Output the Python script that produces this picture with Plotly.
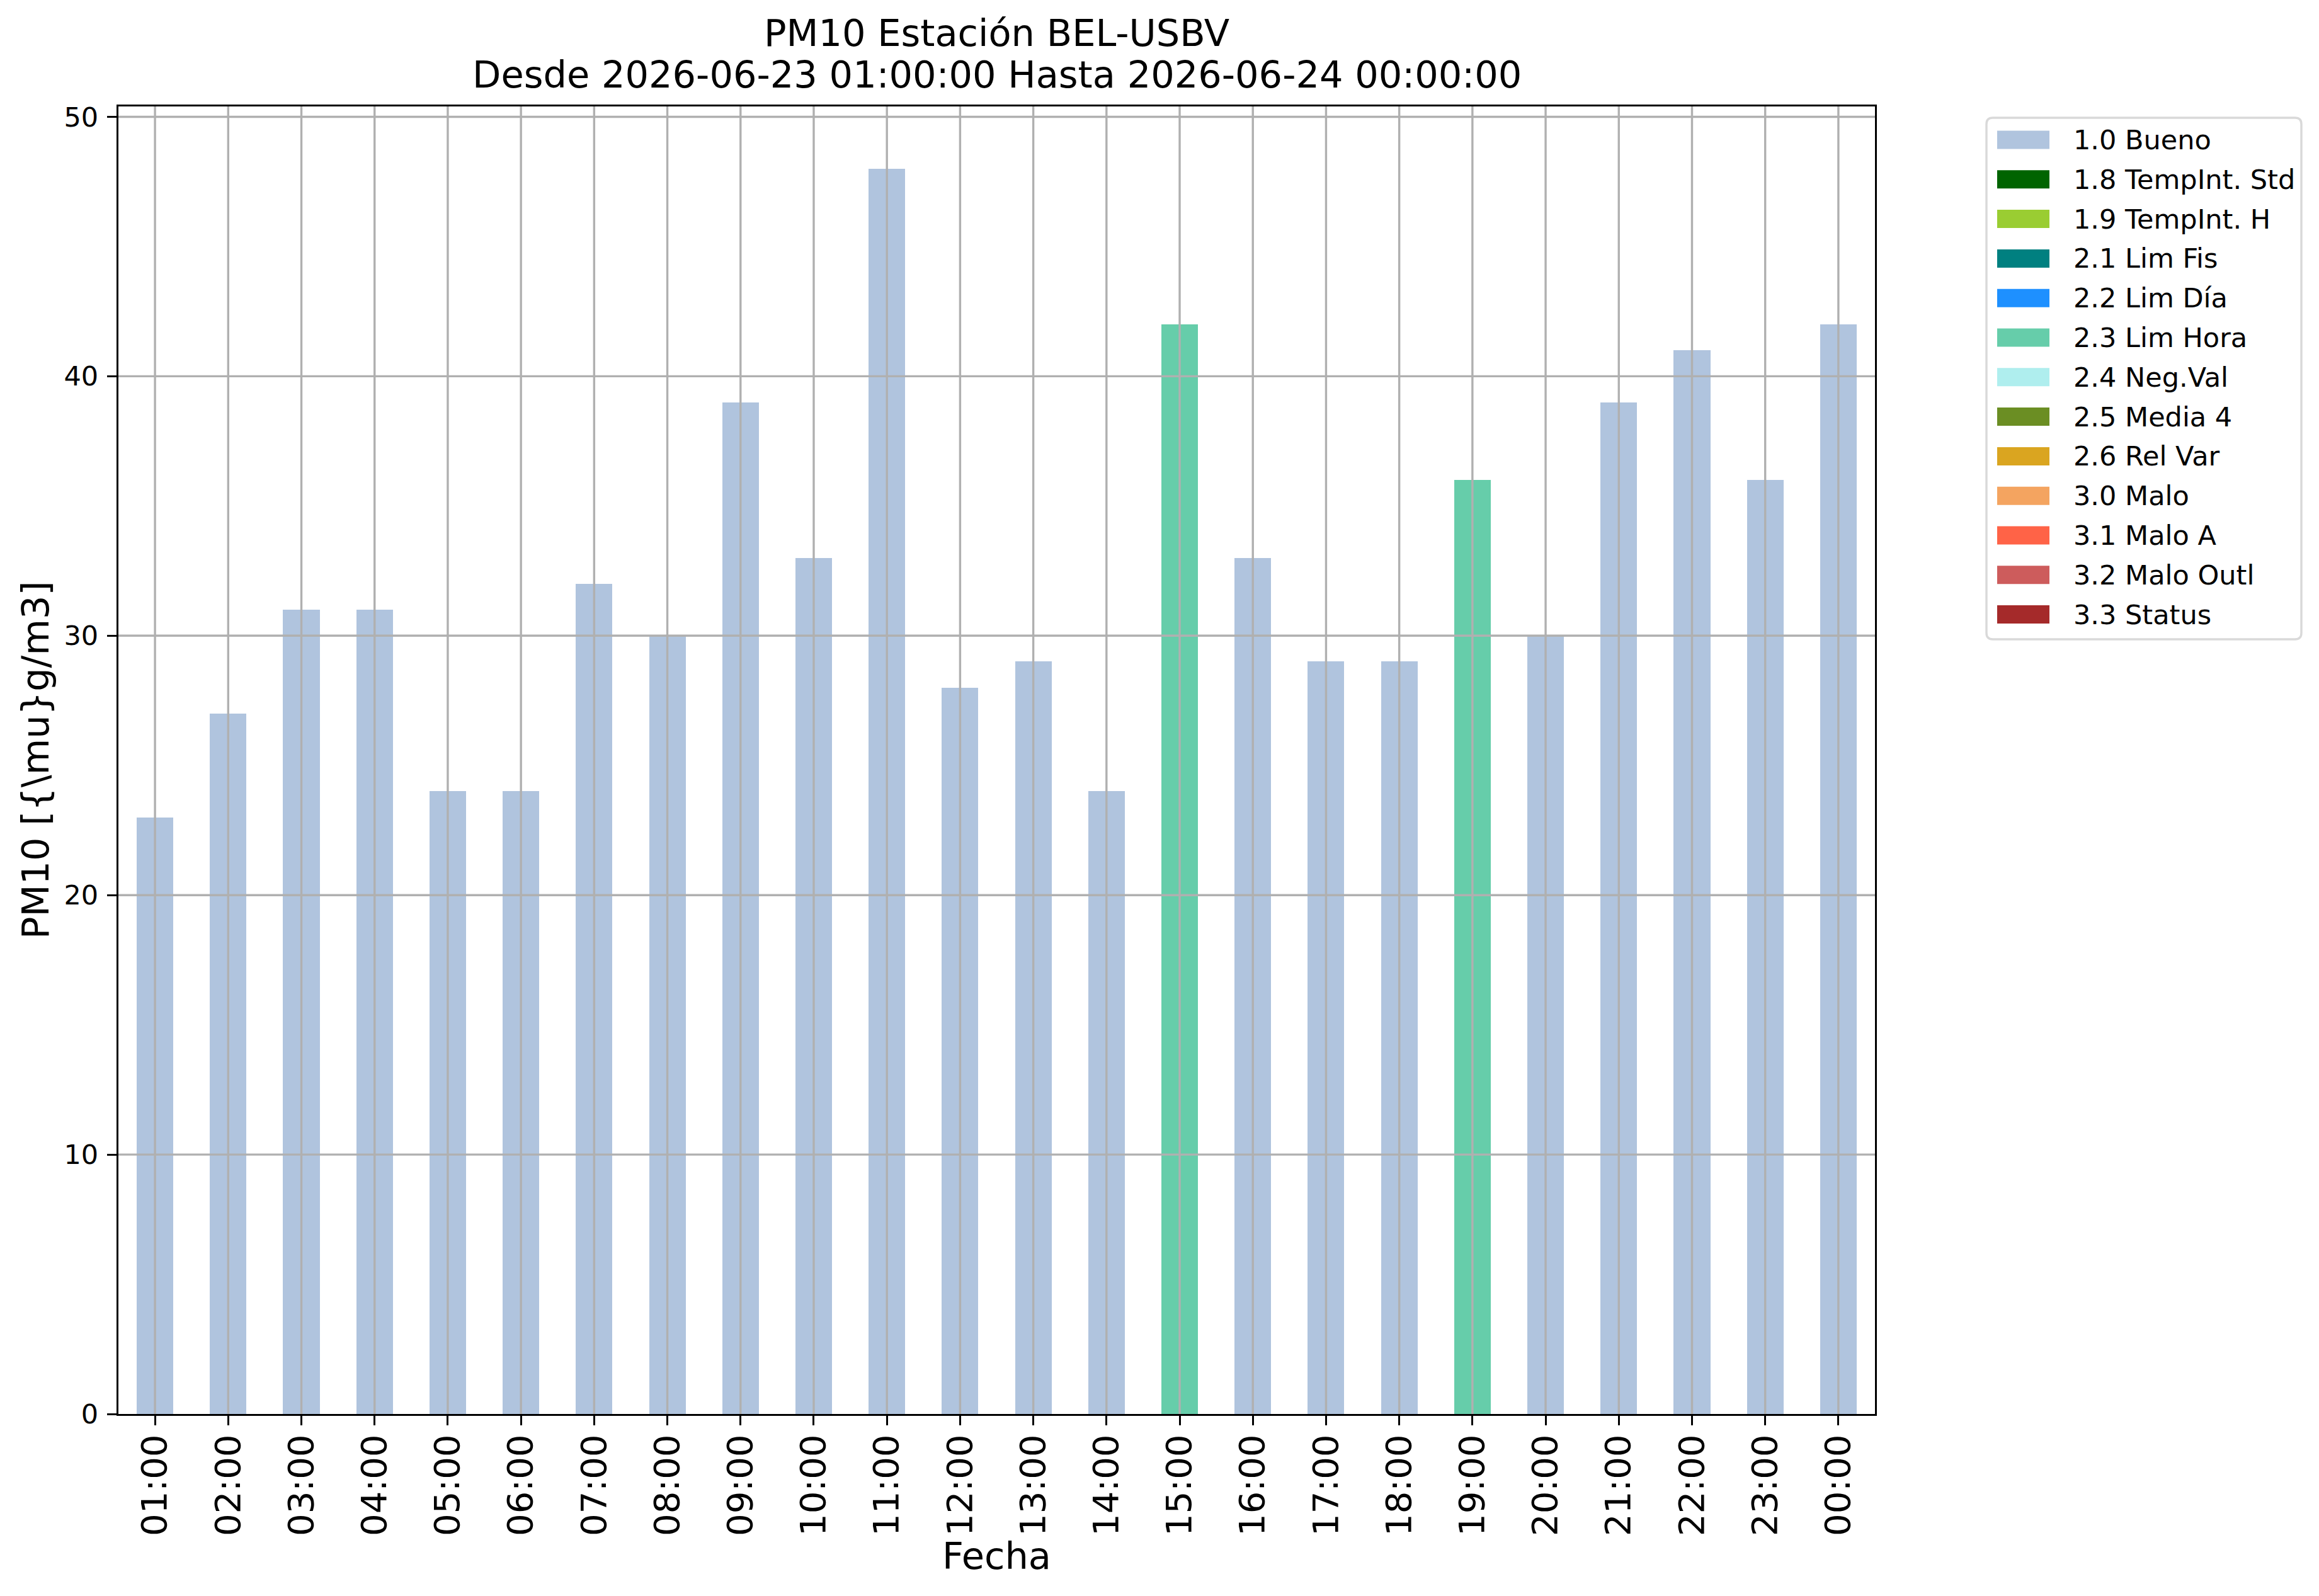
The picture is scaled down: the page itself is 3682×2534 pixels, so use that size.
import plotly.graph_objects as go

# datos: PM10 horario y bandera de calidad
HOURS = ['01:00', '02:00', '03:00', '04:00', '05:00', '06:00', '07:00', '08:00',
         '09:00', '10:00', '11:00', '12:00', '13:00', '14:00', '15:00', '16:00',
         '17:00', '18:00', '19:00', '20:00', '21:00', '22:00', '23:00', '00:00']
PM10 = [23, 27, 31, 31, 24, 24, 32, 30, 39, 33, 48, 28,
        29, 24, 42, 33, 29, 29, 36, 30, 39, 41, 36, 42]
FLAG = ['1.0 Bueno'] * 14 + ['2.3 Lim Hora'] + ['1.0 Bueno'] * 3 + ['2.3 Lim Hora'] + ['1.0 Bueno'] * 5

FLAG_LABELS = ['1.0 Bueno', '1.8 TempInt. Std', '1.9 TempInt. H', '2.1 Lim Fis',
               '2.2 Lim Día', '2.3 Lim Hora', '2.4 Neg.Val', '2.5 Media 4',
               '2.6 Rel Var', '3.0 Malo', '3.1 Malo A', '3.2 Malo Outl', '3.3 Status']
FLAG_COLORS = ['#B0C4DE', '#006400', '#9ACD32', '#008080', '#1E90FF', '#66CDAA',
               '#AFEEEE', '#6B8E23', '#DAA520', '#F4A460', '#FF6347', '#CD5C5C', '#A52A2A']
Y_TICKS = [0, 10, 20, 30, 40, 50]

TITLE_1 = 'PM10 Estación BEL-USBV'
TITLE_2 = 'Desde 2026-06-23 01:00:00 Hasta 2026-06-24 00:00:00'
XLABEL = 'Fecha'
YLABEL = 'PM10 [{\\mu}g/m3]'

# geometria (pixeles)
W, H = 3682, 2534
L, R, T, B = 188, 2977, 169, 2245
FONT = 'DejaVu Sans'
GRID = '#b0b0b0'
LW = 3.4


def px(x):
    return (x - L) / (R - L)


def py(y):
    return (B - y) / (B - T)


fig = go.Figure()

# barras apiladas, una serie por bandera
for lab, col in zip(FLAG_LABELS, FLAG_COLORS):
    vals = [v if f == lab else None for v, f in zip(PM10, FLAG)]
    fig.add_trace(go.Bar(x=HOURS, y=vals, name=lab, width=0.5,
                         marker=dict(color=col, line=dict(width=0)),
                         showlegend=False))

shapes = []
# grid encima de las barras (como matplotlib)
for i in range(len(HOURS)):
    shapes.append(dict(type='line', xref='x', yref='paper', x0=i, x1=i, y0=0, y1=1,
                       line=dict(color=GRID, width=LW), layer='above'))
for t in Y_TICKS[1:]:
    shapes.append(dict(type='line', xref='paper', yref='y', x0=0, x1=1, y0=t, y1=t,
                       line=dict(color=GRID, width=LW), layer='above'))

# leyenda (caja con esquinas redondeadas)
bx0, bx1, by0, by1, rr = 3154, 3654, 187, 1015, 10
box = (f'M{px(bx0 + rr)},{py(by0)} L{px(bx1 - rr)},{py(by0)} '
       f'Q{px(bx1)},{py(by0)} {px(bx1)},{py(by0 + rr)} '
       f'L{px(bx1)},{py(by1 - rr)} Q{px(bx1)},{py(by1)} {px(bx1 - rr)},{py(by1)} '
       f'L{px(bx0 + rr)},{py(by1)} Q{px(bx0)},{py(by1)} {px(bx0)},{py(by1 - rr)} '
       f'L{px(bx0)},{py(by0 + rr)} Q{px(bx0)},{py(by0)} {px(bx0 + rr)},{py(by0)} Z')
shapes.append(dict(type='path', xref='paper', yref='paper', path=box,
                   line=dict(color='#d9d9d9', width=LW), fillcolor='white', layer='above'))
annotations = []
row0, step = 222, 62.8
for k, (lab, col) in enumerate(zip(FLAG_LABELS, FLAG_COLORS)):
    yc = row0 + k * step
    shapes.append(dict(type='rect', xref='paper', yref='paper',
                       x0=px(3171), x1=px(3254), y0=py(yc + 14.5), y1=py(yc - 14.5),
                       line=dict(width=0), fillcolor=col, layer='above'))
    annotations.append(dict(text=lab, xref='paper', yref='paper', x=px(3290), y=py(yc),
                            xanchor='left', yanchor='middle', showarrow=False,
                            font=dict(size=43, color='black', family=FONT)))

# titulos
annotations.append(dict(text=TITLE_1, xref='paper', yref='paper', x=0.5, y=py(52),
                        xanchor='center', yanchor='middle', showarrow=False,
                        font=dict(size=59, color='black', family=FONT)))
annotations.append(dict(text=TITLE_2, xref='paper', yref='paper', x=0.5, y=py(118),
                        xanchor='center', yanchor='middle', showarrow=False,
                        font=dict(size=59, color='black', family=FONT)))
annotations.append(dict(text=XLABEL, xref='paper', yref='paper', x=0.5, y=py(2470),
                        xanchor='center', yanchor='middle', showarrow=False,
                        font=dict(size=59, color='black', family=FONT)))
annotations.append(dict(text=YLABEL, xref='paper', yref='paper', x=px(56), y=0.5,
                        xanchor='center', yanchor='middle', showarrow=False, textangle=-90,
                        font=dict(size=59, color='black', family=FONT)))

axis_style = dict(showline=True, linecolor='black', linewidth=LW, mirror=True,
                  ticks='outside', ticklen=15, tickwidth=LW, tickcolor='black',
                  showgrid=False, zeroline=False)

fig.update_layout(
    width=W, height=H, autosize=False,
    margin=dict(l=L, r=W - R, t=T, b=H - B, pad=0),
    paper_bgcolor='white', plot_bgcolor='white',
    barmode='stack', showlegend=False,
    font=dict(family=FONT, color='black'),
    xaxis=dict(type='category', range=[-0.5, len(HOURS) - 0.5], tickangle=-90,
               tickfont=dict(size=56), ticklabelstandoff=-8, **axis_style),
    yaxis=dict(range=[0, 50.4], tickvals=Y_TICKS, tickfont=dict(size=43),
               ticklabelstandoff=5, **axis_style),
    shapes=shapes,
    annotations=annotations,
)

fig.write_html('out.html', config={'displayModeBar': False},
               post_script="document.body.style.margin='0';")
